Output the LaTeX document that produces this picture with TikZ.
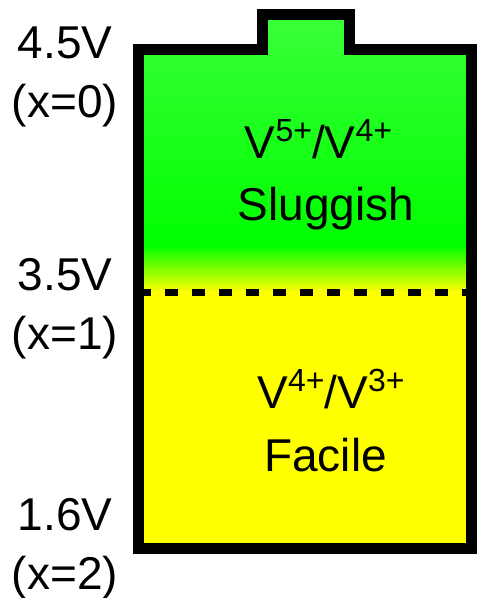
\documentclass[tikz,border=0pt]{standalone}
\usepackage{fontspec}
\setmainfont{Liberation Sans}
\usepackage{xcolor}
\usepackage{tikz}
\usetikzlibrary{positioning}

\definecolor{greentop}{RGB}{60,255,60}
\definecolor{greenmid}{RGB}{0,255,0}
\definecolor{yellowfill}{RGB}{255,255,0}
\newcommand{\ionsup}[1]{\raisebox{17pt}{\fontsize{32}{32}\selectfont #1}}

\begin{document}
\begin{tikzpicture}[
  x=1pt, y=-1pt,
  every node/.style={font=\fontsize{46}{56}\selectfont, inner sep=0pt},
  label/.style={anchor=base},
  shell/.style={line width=11pt, line join=miter},
  dashline/.style={line width=7pt, dash pattern=on 13pt off 14pt}
]
\useasboundingbox (0,0) rectangle (477,598);

% Battery outline
\def\battpath{(138,49.5) -- (262.5,49.5) -- (262.5,14.5) -- (349.5,14.5) -- (349.5,49.5) -- (471.5,49.5) -- (471.5,548) -- (138,548) -- cycle}

% Fill: green fading into yellow
\begin{scope}
  \clip \battpath;
  \shade[top color=greentop, bottom color=greenmid] (130,5) rectangle (480,245);
  \shade[top color=greenmid, bottom color=yellowfill] (130,245) rectangle (480,292);
  \fill[yellowfill] (130,292) rectangle (480,555);
\end{scope}
\draw[shell] \battpath;

% Boundary at 3.5V
\coordinate (midleft) at (138,292);
\coordinate (midright) at (471.5,292);
\draw[dashline] (midleft) -- (midright);

% Voltage labels
\node[label] (v45) at (65,58) {4.5V};
\node[label] (x0) at (65,117) {(x=0)};
\node[label] (v35) at (65,290) {3.5V};
\node[label] (x1) at (65,349) {(x=1)};
\node[label] (v16) at (65,530) {1.6V};
\node[label] (x2) at (65,589) {(x=2)};

% Redox couples
\node[label] (upper) at (318.5,158) {V\ionsup{5+}/V\ionsup{4+}};
\node[label] (slow) at (326,220) {Sluggish};
\node[label] (lower) at (331,408) {V\ionsup{4+}/V\ionsup{3+}};
\node[label] (fast) at (325.5,471) {Facile};
\end{tikzpicture}
\end{document}
